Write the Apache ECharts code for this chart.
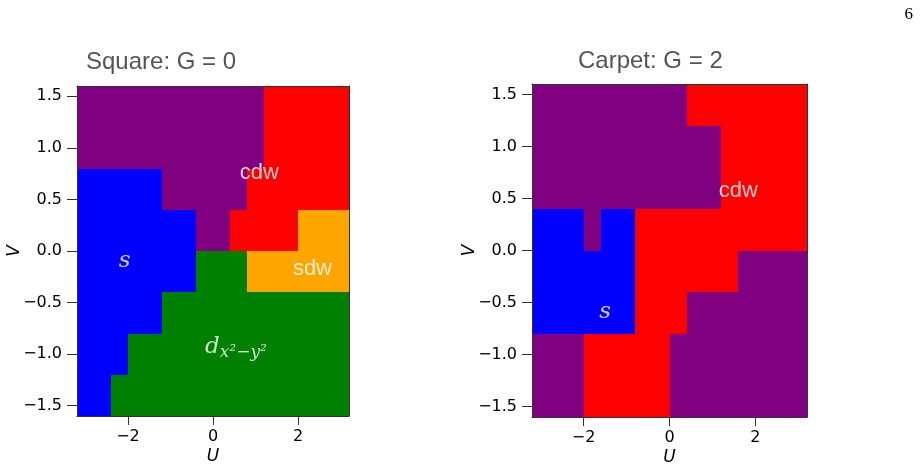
<!DOCTYPE html>
<html>
<head>
<meta charset="utf-8">
<script src="https://cdn.jsdelivr.net/npm/echarts@6/dist/echarts.min.js"></script>
<style>
  html, body { margin: 0; padding: 0; background: #fff; }
  #chart { width: 921px; height: 468px; }
</style>
</head>
<body>
<div id="chart"></div>
<script>
// grid of the phase diagrams (cell centres, cell size 0.4)
var uCenters = [-3.0, -2.6, -2.2, -1.8, -1.4, -1.0, -0.6, -0.2, 0.2, 0.6, 1.0, 1.4, 1.8, 2.2, 2.6, 3.0];
var vCenters = [1.4, 1.0, 0.6, 0.2, -0.2, -0.6, -1.0, -1.4];
var cellSize = 0.4;

// phases: P = purple, R = cdw, B = s, O = sdw, G = d-wave
var phaseCodes = ['P', 'R', 'B', 'O', 'G'];

// rows from top (V = 1.4) to bottom (V = -1.4), one letter per U cell
var squareMap = [
    'PPPPPPPPPPPRRRRR',
    'PPPPPPPPPPPRRRRR',
    'BBBBBPPPPPRRRRRR',
    'BBBBBBBPPRRRROOO',
    'BBBBBBBGGGOOOOOO',
    'BBBBBGGGGGGGGGGG',
    'BBBGGGGGGGGGGGGG',
    'BBGGGGGGGGGGGGGG'
];
var carpetMap = [
    'PPPPPPPPPRRRRRRR',
    'PPPPPPPPPPPRRRRR',
    'PPPPPPPPPPPRRRRR',
    'BBBPBBRRRRRRRRRR',
    'BBBBBBRRRRRRPPPP',
    'BBBBBBRRRPPPPPPP',
    'PPPRRRRRPPPPPPPP',
    'PPPRRRRRPPPPPPPP'
];

var xTicks = [-2, 0, 2];
var yTicks = [-1.5, -1.0, -0.5, 0.0, 0.5, 1.0, 1.5];

// text labels inside the panels: [U, V, text]
var squareLabels = [[1.09, 0.76, 'cdw'], [2.34, -0.17, 'sdw']];
var carpetLabels = [[1.6, 0.575, 'cdw']];
var squareMath = [[-2.08, -0.10, 's'], [0.54, -0.93, 'd']];
var carpetMath = [[-1.5, -0.59, 's']];

var phaseColors = { P: '#800080', R: '#ff0000', B: '#0000ff', O: '#ffa500', G: '#008000' };

function cells(map) {
    var out = [];
    map.forEach(function (row, j) {
        for (var i = 0; i < row.length; i++) {
            out.push([uCenters[i], vCenters[j], phaseCodes.indexOf(row[i])]);
        }
    });
    return out;
}

function minus(s) { return String(s).replace('-', '\u2212'); }

var chartDom = document.getElementById('chart');
var myChart = echarts.init(chartDom);

function renderCell(params, api) {
    var u = api.value(0), v = api.value(1);
    var p0 = api.coord([u - cellSize / 2, v + cellSize / 2]);
    var p1 = api.coord([u + cellSize / 2, v - cellSize / 2]);
    var x0 = Math.round(p0[0]), y0 = Math.round(p0[1]);
    var x1 = Math.round(p1[0]), y1 = Math.round(p1[1]);
    return {
        type: 'rect',
        shape: { x: x0, y: y0, width: x1 - x0, height: y1 - y0 },
        style: { fill: phaseColors[phaseCodes[api.value(2)]] }
    };
}

var tickFont = { fontFamily: 'DejaVu Sans', fontSize: 16, color: '#000' };
var frame = { show: true, onZero: false, lineStyle: { color: '#333', width: 1 } };

function xAxisFor(gi) {
    return [{
        type: 'value', gridIndex: gi, min: -3.2, max: 3.2, z: 5,
        name: 'U', nameLocation: 'middle', nameGap: 32, nameMoveOverlap: false,
        nameTextStyle: { fontFamily: 'DejaVu Sans', fontStyle: 'italic', fontSize: 17, color: '#000' },
        axisLine: frame,
        axisTick: { show: true, length: 9, customValues: xTicks, lineStyle: { color: '#333' } },
        axisLabel: Object.assign({ customValues: xTicks, margin: 13, formatter: function (v) { return minus(v); } }, tickFont),
        splitLine: { show: false }
    }, {
        type: 'value', gridIndex: gi, position: 'top', min: -3.2, max: 3.2, z: 5,
        axisLine: frame, axisTick: { show: false }, axisLabel: { show: false }, splitLine: { show: false }
    }];
}

function yAxisFor(gi) {
    return [{
        type: 'value', gridIndex: gi, min: -1.6, max: 1.6, z: 5,
        name: 'V', nameLocation: 'middle', nameGap: 54, nameRotate: 90, nameMoveOverlap: false,
        nameTextStyle: { fontFamily: 'DejaVu Sans', fontStyle: 'italic', fontSize: 17, color: '#000' },
        axisLine: frame,
        axisTick: { show: true, length: 10, customValues: yTicks, lineStyle: { color: '#333' } },
        axisLabel: Object.assign({ customValues: yTicks, margin: 15, formatter: function (v) { return minus(v.toFixed(1)); } }, tickFont),
        splitLine: { show: false }
    }, {
        type: 'value', gridIndex: gi, position: 'right', min: -1.6, max: 1.6, z: 5,
        axisLine: frame, axisTick: { show: false }, axisLabel: { show: false }, splitLine: { show: false }
    }];
}

function labelSeries(list, xi, yi) {
    return {
        type: 'scatter', xAxisIndex: xi, yAxisIndex: yi, z: 6, symbolSize: 0, silent: true,
        data: list.map(function (d) { return { value: [d[0], d[1]], name: d[2] }; }),
        label: {
            show: true, position: 'inside', formatter: '{b}',
            fontFamily: 'Liberation Sans', fontSize: 22, color: '#fff'
        }
    };
}

function mathSeries(list, xi, yi) {
    return {
        type: 'scatter', xAxisIndex: xi, yAxisIndex: yi, z: 6, symbolSize: 0, silent: true,
        data: list.map(function (d) { return { value: [d[0], d[1]], name: d[2] }; }),
        label: {
            show: true, position: 'inside', color: '#fff',
            formatter: function (p) {
                return p.name === 'd' ? '{m|d}{sub|x\u00b2\u2212y\u00b2}' : '{m|s}';
            },
            rich: {
                m: { fontFamily: 'DejaVu Serif', fontStyle: 'italic', fontSize: 23, color: '#fff' },
                sub: { fontFamily: 'DejaVu Serif', fontStyle: 'italic', fontSize: 17, color: '#fff', padding: [12, 0, 0, 0] }
            }
        }
    };
}

var titleFont = { fontFamily: 'Liberation Sans', fontSize: 24, fontWeight: 'normal', fill: '#555' };

var option = {
    backgroundColor: '#fff',
    animation: false,
    grid: [
        { left: 77, top: 86, width: 272, height: 330, outerBoundsMode: 'none', containLabel: false },
        { left: 532, top: 84, width: 275, height: 333, outerBoundsMode: 'none', containLabel: false }
    ],
    xAxis: xAxisFor(0).concat(xAxisFor(1)),
    yAxis: yAxisFor(0).concat(yAxisFor(1)),
    graphic: [
        { type: 'text', left: 86, top: 50, style: Object.assign({ text: 'Square: G = 0' }, titleFont) },
        { type: 'text', left: 578, top: 49, style: Object.assign({ text: 'Carpet: G = 2' }, titleFont) },
        { type: 'text', right: 8, top: 6, style: { text: '6', fontFamily: 'Liberation Serif', fontSize: 17, fill: '#000' } }
    ],
    series: [
        { type: 'custom', xAxisIndex: 0, yAxisIndex: 0, z: 2, renderItem: renderCell, data: cells(squareMap), silent: true },
        { type: 'custom', xAxisIndex: 2, yAxisIndex: 2, z: 2, renderItem: renderCell, data: cells(carpetMap), silent: true },
        labelSeries(squareLabels, 0, 0),
        mathSeries(squareMath, 0, 0),
        labelSeries(carpetLabels, 2, 2),
        mathSeries(carpetMath, 2, 2)
    ]
};

myChart.setOption(option);
</script>
</body>
</html>
